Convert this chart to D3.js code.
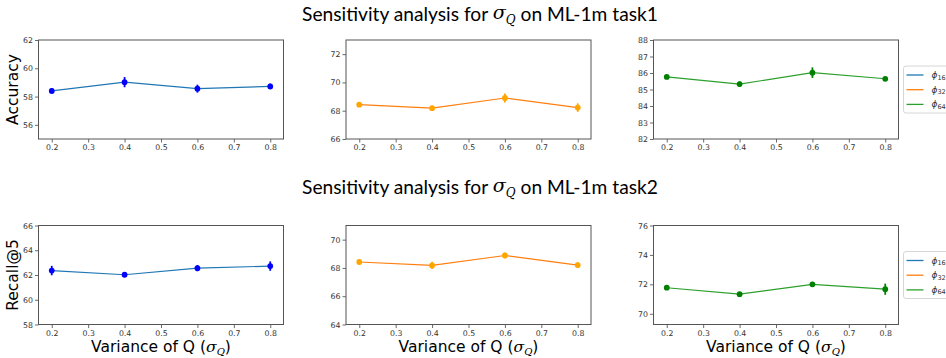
<!DOCTYPE html>
<html><head><meta charset="utf-8">
<script src="https://cdn.jsdelivr.net/npm/d3@7"></script>
<style>body{margin:0;background:#fff}svg{display:block}</style>
</head><body>
<svg id="c" width="946" height="358"></svg>
<script>
const sigmaQ = [0.2, 0.4, 0.6, 0.8];
const xTicks = [0.2, 0.3, 0.4, 0.5, 0.6, 0.7, 0.8];
const legendLabels = ["16", "32", "64"];

const task1Phi16 = [58.40, 59.02, 58.56, 58.72];
const task1Phi16Err = [0.20, 0.36, 0.28, 0.20];
const task1Phi32 = [68.43, 68.18, 68.90, 68.22];
const task1Phi32Err = [0.10, 0.10, 0.32, 0.30];
const task1Phi64 = [85.76, 85.33, 86.02, 85.65];
const task1Phi64Err = [0.05, 0.16, 0.32, 0.05];

const task2Phi16 = [62.36, 62.02, 62.55, 62.72];
const task2Phi16Err = [0.38, 0.15, 0.25, 0.38];
const task2Phi32 = [68.42, 68.18, 68.88, 68.20];
const task2Phi32Err = [0.08, 0.25, 0.20, 0.20];
const task2Phi64 = [71.77, 71.33, 72.00, 71.67];
const task2Phi64Err = [0.05, 0.05, 0.05, 0.38];

const yTicks1 = [[56, 58, 60, 62], [66, 68, 70, 72], [82, 83, 84, 85, 86, 87, 88]];
const yTicks2 = [[58, 60, 62, 64, 66], [64, 66, 68, 70], [70, 72, 74, 76]];
const yDomains1 = [[55, 62], [66, 73], [82, 88]];
const yDomains2 = [[58, 66], [64, 71], [69.27, 76]];

const lineColors = ["#1f77b4", "#ff7f0e", "#2ca02c"];
const markColors = ["#0000ff", "#ffa500", "#008000"];

const svg = d3.select("#c");
const colX = [38.5, 346, 653.5];
const pw = 245;
const rowY = [40, 225.5];
const ph = 99;

const rows = [
  {vals: [task1Phi16, task1Phi32, task1Phi64], errs: [task1Phi16Err, task1Phi32Err, task1Phi64Err], ticks: yTicks1, doms: yDomains1},
  {vals: [task2Phi16, task2Phi32, task2Phi64], errs: [task2Phi16Err, task2Phi32Err, task2Phi64Err], ticks: yTicks2, doms: yDomains2}
];

rows.forEach((row, ri) => {
  for (let ci = 0; ci < 3; ci++) {
    const g = svg.append("g").attr("transform", `translate(${colX[ci]},${rowY[ri]})`);
    const x = d3.scaleLinear().domain([0.1636, 0.8364]).range([0, pw]);
    const y = d3.scaleLinear().domain(row.doms[ci]).range([ph, 0]);
    const xa = g.append("g").attr("transform", `translate(0,${ph})`)
      .call(d3.axisBottom(x).tickValues(xTicks).tickFormat(d3.format(".1f")).tickSize(3.5).tickPadding(2));
    const ya = g.append("g")
      .call(d3.axisLeft(y).tickValues(row.ticks[ci]).tickFormat(d3.format("d")).tickSize(3.5).tickPadding(2));
    [xa, ya].forEach(a => {
      a.select(".domain").remove();
      a.selectAll("line").attr("stroke", "#444").attr("stroke-width", 0.8);
      a.selectAll("text").attr("font-family", "DejaVu Sans").attr("font-size", 7.8).attr("fill", "#333");
    });
    g.append("rect").attr("width", pw).attr("height", ph).attr("fill", "none").attr("stroke", "#555").attr("stroke-width", 1);
    const vals = row.vals[ci], errs = row.errs[ci];
    const pts = sigmaQ.map((s, i) => ({s, v: vals[i], e: errs[i]}));
    g.append("path").datum(pts)
      .attr("d", d3.line().x(d => x(d.s)).y(d => y(d.v)))
      .attr("fill", "none").attr("stroke", lineColors[ci]).attr("stroke-width", 1.2);
    g.selectAll(".eb").data(pts).enter().append("line")
      .attr("x1", d => x(d.s)).attr("x2", d => x(d.s))
      .attr("y1", d => y(d.v - d.e)).attr("y2", d => y(d.v + d.e))
      .attr("stroke", markColors[ci]).attr("stroke-width", 1.8);
    g.selectAll(".mk").data(pts).enter().append("circle")
      .attr("cx", d => x(d.s)).attr("cy", d => y(d.v)).attr("r", 2.9)
      .attr("fill", markColors[ci]);
  }
  // legend
  const lg = svg.append("g").attr("transform", `translate(903.5,${rowY[ri] + ph / 2 - 23.5})`);
  lg.append("rect").attr("width", 60).attr("height", 47).attr("rx", 2.5)
    .attr("fill", "#fff").attr("stroke", "#ccc").attr("stroke-width", 0.8);
  legendLabels.forEach((l, i) => {
    const yy = 9 + i * 14.7;
    lg.append("line").attr("x1", 3).attr("x2", 20).attr("y1", yy).attr("y2", yy)
      .attr("stroke", lineColors[i]).attr("stroke-width", 1.3);
    const t = lg.append("text").attr("x", 28).attr("y", yy + 3).attr("font-family", "DejaVu Sans")
      .attr("font-size", 9).attr("fill", "#333");
    t.append("tspan").attr("font-style", "italic").text("ϕ");
    t.append("tspan").attr("font-size", 6.5).attr("dy", 1.5).text(l);
  });
});

// titles
function title(yb, task) {
  const t = svg.append("text").attr("x", 480).attr("y", yb).attr("text-anchor", "middle")
    .attr("font-family", "Lato").attr("font-size", 19.2).attr("fill", "#000");
  t.append("tspan").text("Sensitivity analysis for ");
  t.append("tspan").attr("font-family", "DejaVu Serif").attr("font-style", "italic").attr("dy", -2).text("σ");
  t.append("tspan").attr("font-family", "DejaVu Serif").attr("font-style", "italic").attr("font-size", 12).attr("dy", 5).text("Q");
  t.append("tspan").attr("dy", -3).text(" on ML-1m " + task);
}
title(21, "task1");
title(194, "task2");

// y labels
[["Accuracy", rowY[0] + ph / 2], ["Recall@5", rowY[1] + ph / 2]].forEach(([s, cy]) => {
  svg.append("text").attr("transform", `translate(18,${cy}) rotate(-90)`).attr("text-anchor", "middle")
    .attr("font-family", "DejaVu Sans").attr("font-size", 15.5).attr("fill", "#000").text(s);
});
// x labels
colX.forEach(cx => {
  const t = svg.append("text").attr("x", cx + pw / 2).attr("y", 352).attr("text-anchor", "middle")
    .attr("font-family", "DejaVu Sans").attr("font-size", 15.5).attr("fill", "#000");
  t.append("tspan").text("Variance of Q (");
  t.append("tspan").attr("font-family", "DejaVu Serif").attr("font-style", "italic").text("σ");
  t.append("tspan").attr("font-family", "DejaVu Serif").attr("font-style", "italic").attr("font-size", 10).attr("dy", 3).text("Q");
  t.append("tspan").attr("dy", -3).text(")");
});
</script>
</body></html>
